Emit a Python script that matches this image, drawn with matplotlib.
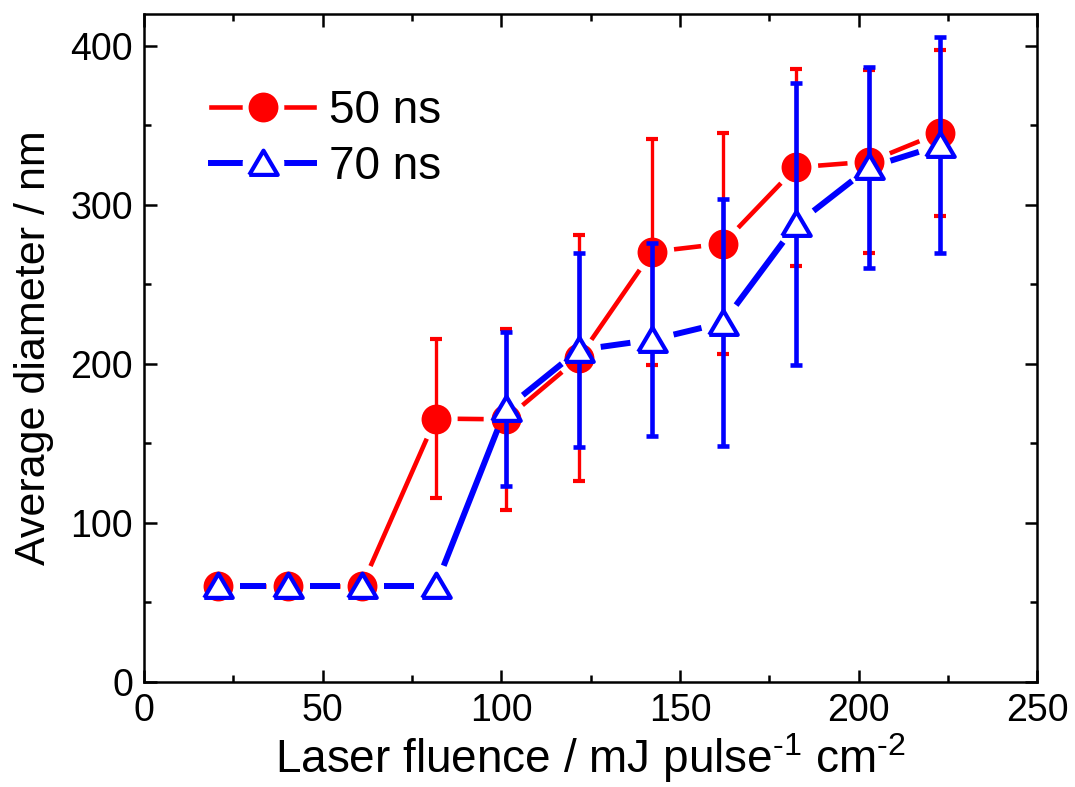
import numpy as np
import matplotlib
matplotlib.use("Agg")
import matplotlib.pyplot as plt
from matplotlib.lines import Line2D
from matplotlib.legend_handler import HandlerTuple
from matplotlib.ticker import MultipleLocator

plt.rcParams['font.family'] = ['Liberation Sans', 'DejaVu Sans']
plt.rcParams['mathtext.fontset'] = 'custom'
plt.rcParams['mathtext.rm'] = 'Liberation Sans'
plt.rcParams['mathtext.it'] = 'Liberation Sans'

# laser fluence (mJ pulse^-1 cm^-2)
fluence = [20.7, 40.3, 60.9, 81.6, 101.2, 121.7, 142.2, 162.0, 182.5, 203.0, 222.7]

# 50 ns pulses
d50 = [60, 60, 60, 165.5, 165, 203.7, 270.4, 275.6, 323.6, 327.2, 345.3]
e50 = [0, 0, 0, 50, 57, 77.3, 71, 69.6, 62.2, 57.4, 52.4]

# 70 ns pulses
d70 = [60, 60, 60, 60, 171.5, 208.7, 215.1, 225.8, 287.7, 323.6, 337.5]
e70 = [0, 0, 0, 0, 48.5, 61.3, 60.6, 77.6, 88.7, 63.2, 68]

fig = plt.figure(figsize=(10.75, 7.87), dpi=100)
fig.subplots_adjust(left=0.134, right=0.965, bottom=0.134, top=0.982)
ax = fig.add_subplot(111)
ax.set_xlim(0, 250)
ax.set_ylim(0, 420)


# Origin style: line segments stop short of the symbols (gap in pixels)
def gapped_line(x, y, color, lw, gap, z):
    pts = ax.transData.transform(np.column_stack([x, y]))
    for p0, p1 in zip(pts[:-1], pts[1:]):
        d = p1 - p0
        L = np.hypot(*d)
        if L <= 2 * gap:
            continue
        u = d / L
        a = ax.transData.inverted().transform([p0 + u * gap, p1 - u * gap])
        ax.plot(a[:, 0], a[:, 1], color=color, lw=lw, solid_capstyle='butt', zorder=z)


red = '#ff0000'
blue = '#0000ff'
tri = [(-1, -0.8), (1, -0.8), (0, 0.9), (-1, -0.8)]  # slightly flattened triangle

gapped_line(fluence, d50, red, 3.3, 22, 2)
ax.errorbar(fluence, d50, yerr=e50, fmt='none', ecolor=red, elinewidth=2.4,
            capsize=4.5, capthick=3.0, zorder=3)
ax.plot(fluence, d50, 'o', color=red, ms=21.5, mec=red, mew=0, zorder=4)

gapped_line(fluence, d70, blue, 4.3, 22, 5)
ax.errorbar(fluence, d70, yerr=e70, fmt='none', ecolor=blue, elinewidth=3.3,
            capsize=4.5, capthick=3.3, zorder=6)
ax.plot(fluence, d70, ls='none', marker=tri, ms=20.5, mfc='white', mec=blue, mew=3.0, zorder=7)

# legend handles with gap around the symbol
h50 = (Line2D([], [], color=red, lw=3.3),
       Line2D([], [], ls='none', marker='o', ms=29, mfc='white', mec='white'),
       Line2D([], [], ls='none', marker='o', ms=21.5, mfc=red, mec=red, mew=0))
h70 = (Line2D([], [], color=blue, lw=4.3),
       Line2D([], [], ls='none', marker='o', ms=29, mfc='white', mec='white'),
       Line2D([], [], ls='none', marker=tri, ms=20.5, mfc='white', mec=blue, mew=3.0))
ax.legend([h50, h70], ['50 ns', '70 ns'], handler_map={tuple: HandlerTuple(ndivide=1)},
          loc='upper left', bbox_to_anchor=(0.075, 0.888), frameon=False, fontsize=33,
          handlelength=2.25, handletextpad=0.33, labelspacing=0.27, borderaxespad=0,
          borderpad=0)

ax.set_xlabel('Laser fluence / mJ pulse$^{\u20101}$ cm$^{\u20102}$', fontsize=33, labelpad=2)
ax.set_ylabel('Average diameter / nm', fontsize=31, labelpad=12)

ax.xaxis.set_major_locator(MultipleLocator(50))
ax.xaxis.set_minor_locator(MultipleLocator(25))
ax.yaxis.set_major_locator(MultipleLocator(100))
ax.yaxis.set_minor_locator(MultipleLocator(50))
ax.tick_params(which='both', direction='in', top=True, right=True, width=1.8, labelsize=27)
ax.tick_params(which='major', length=9, pad=8)
ax.tick_params(which='minor', length=5)
for s in ax.spines.values():
    s.set_linewidth(1.8)

fig.savefig('out.png', dpi=100)
